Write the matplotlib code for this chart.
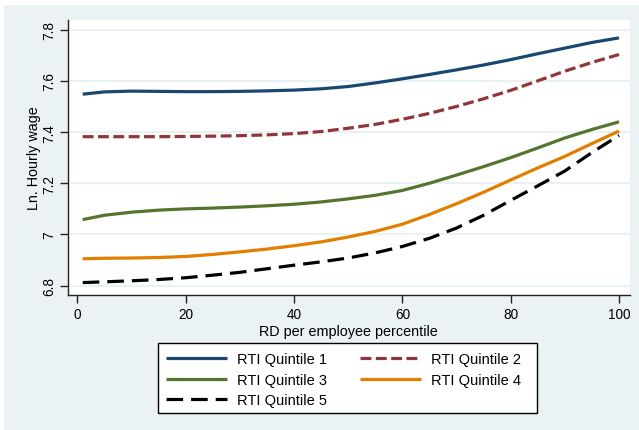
import matplotlib
matplotlib.use("Agg")
import matplotlib.pyplot as plt
from matplotlib.patches import Rectangle

plt.rcParams['font.family'] = ['Liberation Sans', 'DejaVu Sans']

# RD per employee percentile
pct = [1, 5, 10, 15, 20, 25, 30, 35, 40, 45, 50, 55, 60, 65, 70, 75, 80, 85, 90, 95, 100]

# Fitted log hourly wage by RTI quintile
q1 = [7.548, 7.557, 7.560, 7.559, 7.558, 7.558, 7.559, 7.561, 7.564, 7.569, 7.578,
      7.592, 7.608, 7.625, 7.643, 7.662, 7.683, 7.706, 7.728, 7.750, 7.768]
q2 = [7.382, 7.382, 7.382, 7.382, 7.383, 7.384, 7.386, 7.389, 7.394, 7.402, 7.415,
      7.430, 7.450, 7.473, 7.500, 7.530, 7.563, 7.600, 7.638, 7.672, 7.703]
q3 = [7.058, 7.075, 7.087, 7.095, 7.100, 7.103, 7.107, 7.112, 7.118, 7.127, 7.139,
      7.153, 7.172, 7.200, 7.232, 7.265, 7.300, 7.338, 7.377, 7.410, 7.440]
q4 = [6.905, 6.907, 6.908, 6.910, 6.914, 6.922, 6.932, 6.943, 6.956, 6.971, 6.990,
      7.012, 7.040, 7.078, 7.120, 7.165, 7.213, 7.260, 7.305, 7.355, 7.404]
q5 = [6.812, 6.815, 6.819, 6.824, 6.831, 6.841, 6.852, 6.866, 6.880, 6.893, 6.908,
      6.928, 6.953, 6.985, 7.025, 7.075, 7.133, 7.190, 7.248, 7.320, 7.387]

labels = ["RTI Quintile 1", "RTI Quintile 2", "RTI Quintile 3",
          "RTI Quintile 4", "RTI Quintile 5"]
xticks = [0, 20, 40, 60, 80, 100]
yticks = [6.8, 7.0, 7.2, 7.4, 7.6, 7.8]
yticklabels = ["6.8", "7", "7.2", "7.4", "7.6", "7.8"]

W, H = 639, 431
fig = plt.figure(figsize=(W / 100, H / 100), dpi=100, facecolor="white")

# graph region background
bg = "#EAF2F3"
fig.patches.append(Rectangle((4 / W, 0), 1 - 4 / W, (H - 6) / H,
                             transform=fig.transFigure, facecolor=bg,
                             edgecolor="none", zorder=-10))

ax = fig.add_axes([67.7 / W, 1 - 296 / H, (630 - 67.7) / W, (296 - 20.7) / H])
ax.set_facecolor("white")

lw = 2.3
series = [
    (q1, "#1A476F", "-"),
    (q2, "#90353B", (0, (3.4, 1.4))),
    (q3, "#55752F", "-"),
    (q4, "#E37E00", "-"),
    (q5, "#000000", (0, (5.2, 2.5))),
]
handles = []
for (vals, color, ls), lab in zip(series, labels):
    h, = ax.plot(pct, vals, color=color, lw=lw, linestyle=ls, label=lab,
                 solid_capstyle="butt", dash_capstyle="butt", zorder=3)
    handles.append(h)

ax.set_xlim(-1.77, 102.03)
ax.set_ylim(6.7635, 7.839)
ax.set_xticks(xticks)
ax.set_yticks(yticks)
ax.set_yticklabels(yticklabels, rotation=90, va="center")
ax.grid(axis="y", color="#E4EDF0", lw=1.1, zorder=0)
ax.grid(axis="x", visible=False)

for s in ["top", "right"]:
    ax.spines[s].set_visible(False)
for s in ["left", "bottom"]:
    ax.spines[s].set_color("#222222")
    ax.spines[s].set_linewidth(1.0)

ax.tick_params(axis="both", direction="out", length=5.5, width=1.0,
               color="#222222", labelsize=9.8, labelcolor="black")
ax.tick_params(axis="y", pad=3)
ax.tick_params(axis="x", pad=3)

ax.set_xlabel("RD per employee percentile", fontsize=10.4, labelpad=2)
ax.set_ylabel("Ln. Hourly wage", fontsize=10.4, labelpad=1)

# legend frame
fig.patches.append(Rectangle((158.3 / W, 1 - 413.7 / H), (537 - 158.3) / W,
                             (413.7 - 344) / H, transform=fig.transFigure,
                             facecolor="white", edgecolor="black", lw=1.0,
                             zorder=1))

order = [0, 2, 4, 1, 3]
leg = fig.legend([handles[i] for i in order], [labels[i] for i in order],
                 loc="upper left", bbox_to_anchor=(166 / W, 1 - 353.5 / H),
                 ncol=2, fontsize=10.5, frameon=False,
                 handlelength=4.18, handletextpad=0.71, columnspacing=2.24,
                 labelspacing=0.42, borderpad=0, borderaxespad=0)
leg.set_zorder(5)

fig.savefig("out.png", dpi=100, facecolor=fig.get_facecolor())
